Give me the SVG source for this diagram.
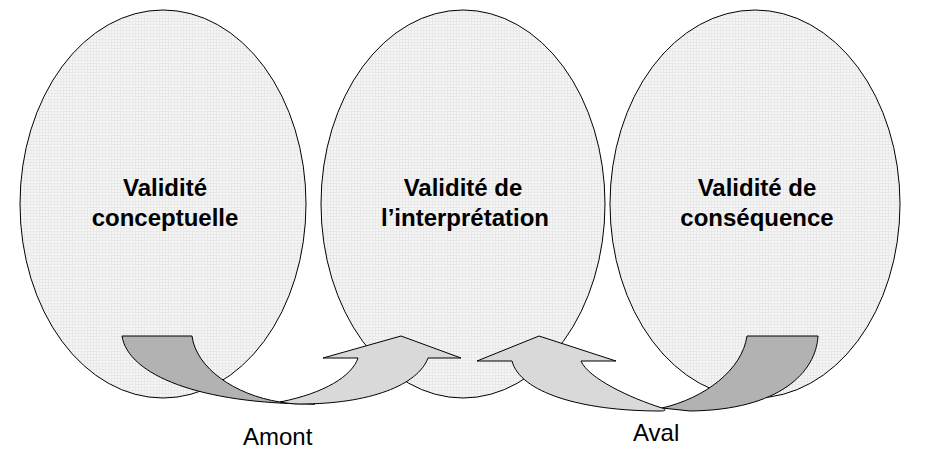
<svg xmlns="http://www.w3.org/2000/svg" width="936" height="450" viewBox="0 0 936 450">
  <defs>
    <pattern id="grid" width="3" height="3" patternUnits="userSpaceOnUse">
      <rect width="3" height="3" fill="#f5f5f5"/>
      <path d="M0 0.5H3M0.5 0V3" stroke="#e9e9e9" stroke-width="1"/>
    </pattern>
  </defs>
  <style>
    .ell { fill: url(#grid); stroke: #000; stroke-width: 1; }
    .lbl { font-family: "Liberation Sans", Arial, sans-serif; font-size: 24px; font-weight: bold; fill: #000; text-anchor: middle; }
    .cap { font-family: "Liberation Sans", Arial, sans-serif; font-size: 24px; fill: #000; }
    .dark { fill: #b2b2b2; stroke: #000; stroke-width: 1; stroke-linejoin: miter; }
    .light { fill: #d9d9d9; stroke: #000; stroke-width: 1; stroke-linejoin: miter; }
  </style>
  <rect width="936" height="450" fill="#fff"/>

  <g id="node-conceptuelle">
    <ellipse class="ell" cx="163" cy="204" rx="143" ry="194"/>
    <text class="lbl" x="165" y="196">Validité</text>
    <text class="lbl" x="165" y="226">conceptuelle</text>
  </g>
  <g id="node-interpretation">
    <ellipse class="ell" cx="463" cy="204" rx="142" ry="194"/>
    <text class="lbl" x="463" y="196">Validité de</text>
    <text class="lbl" x="465" y="226">l’interprétation</text>
  </g>
  <g id="node-consequence">
    <ellipse class="ell" cx="755" cy="204" rx="145" ry="194"/>
    <text class="lbl" x="757" y="196">Validité de</text>
    <text class="lbl" x="757" y="226">conséquence</text>
  </g>

  <g id="connectors">
    <g id="amont">
      <path class="dark" d="M122,336 L192,336 C196,368 235,395 280,402 L315,404 C200,404 128,375 122,336 Z"/>
      <path class="light" d="M280,402 C325,393 352,376 358,358 L323,358 L401,336 L461,358 L428,358 C418,385 370,404 300,404 C292,404 286,403 280,402 Z"/>
    </g>
    <g id="aval">
      <path class="dark" d="M747,336 L818,336 C816,372 780,410 690,411 L662,408 C705,398 742,370 747,336 Z"/>
      <path class="light" d="M662,408 C630,398 588,378 581,361 L616,361 L539,336 L477,361 L512,361 C520,392 580,411 660,411 C668,411 665,409 662,408 Z"/>
    </g>
    <text class="cap" x="243" y="445">Amont</text>
    <text class="cap" x="633" y="441">Aval</text>
  </g>
</svg>
